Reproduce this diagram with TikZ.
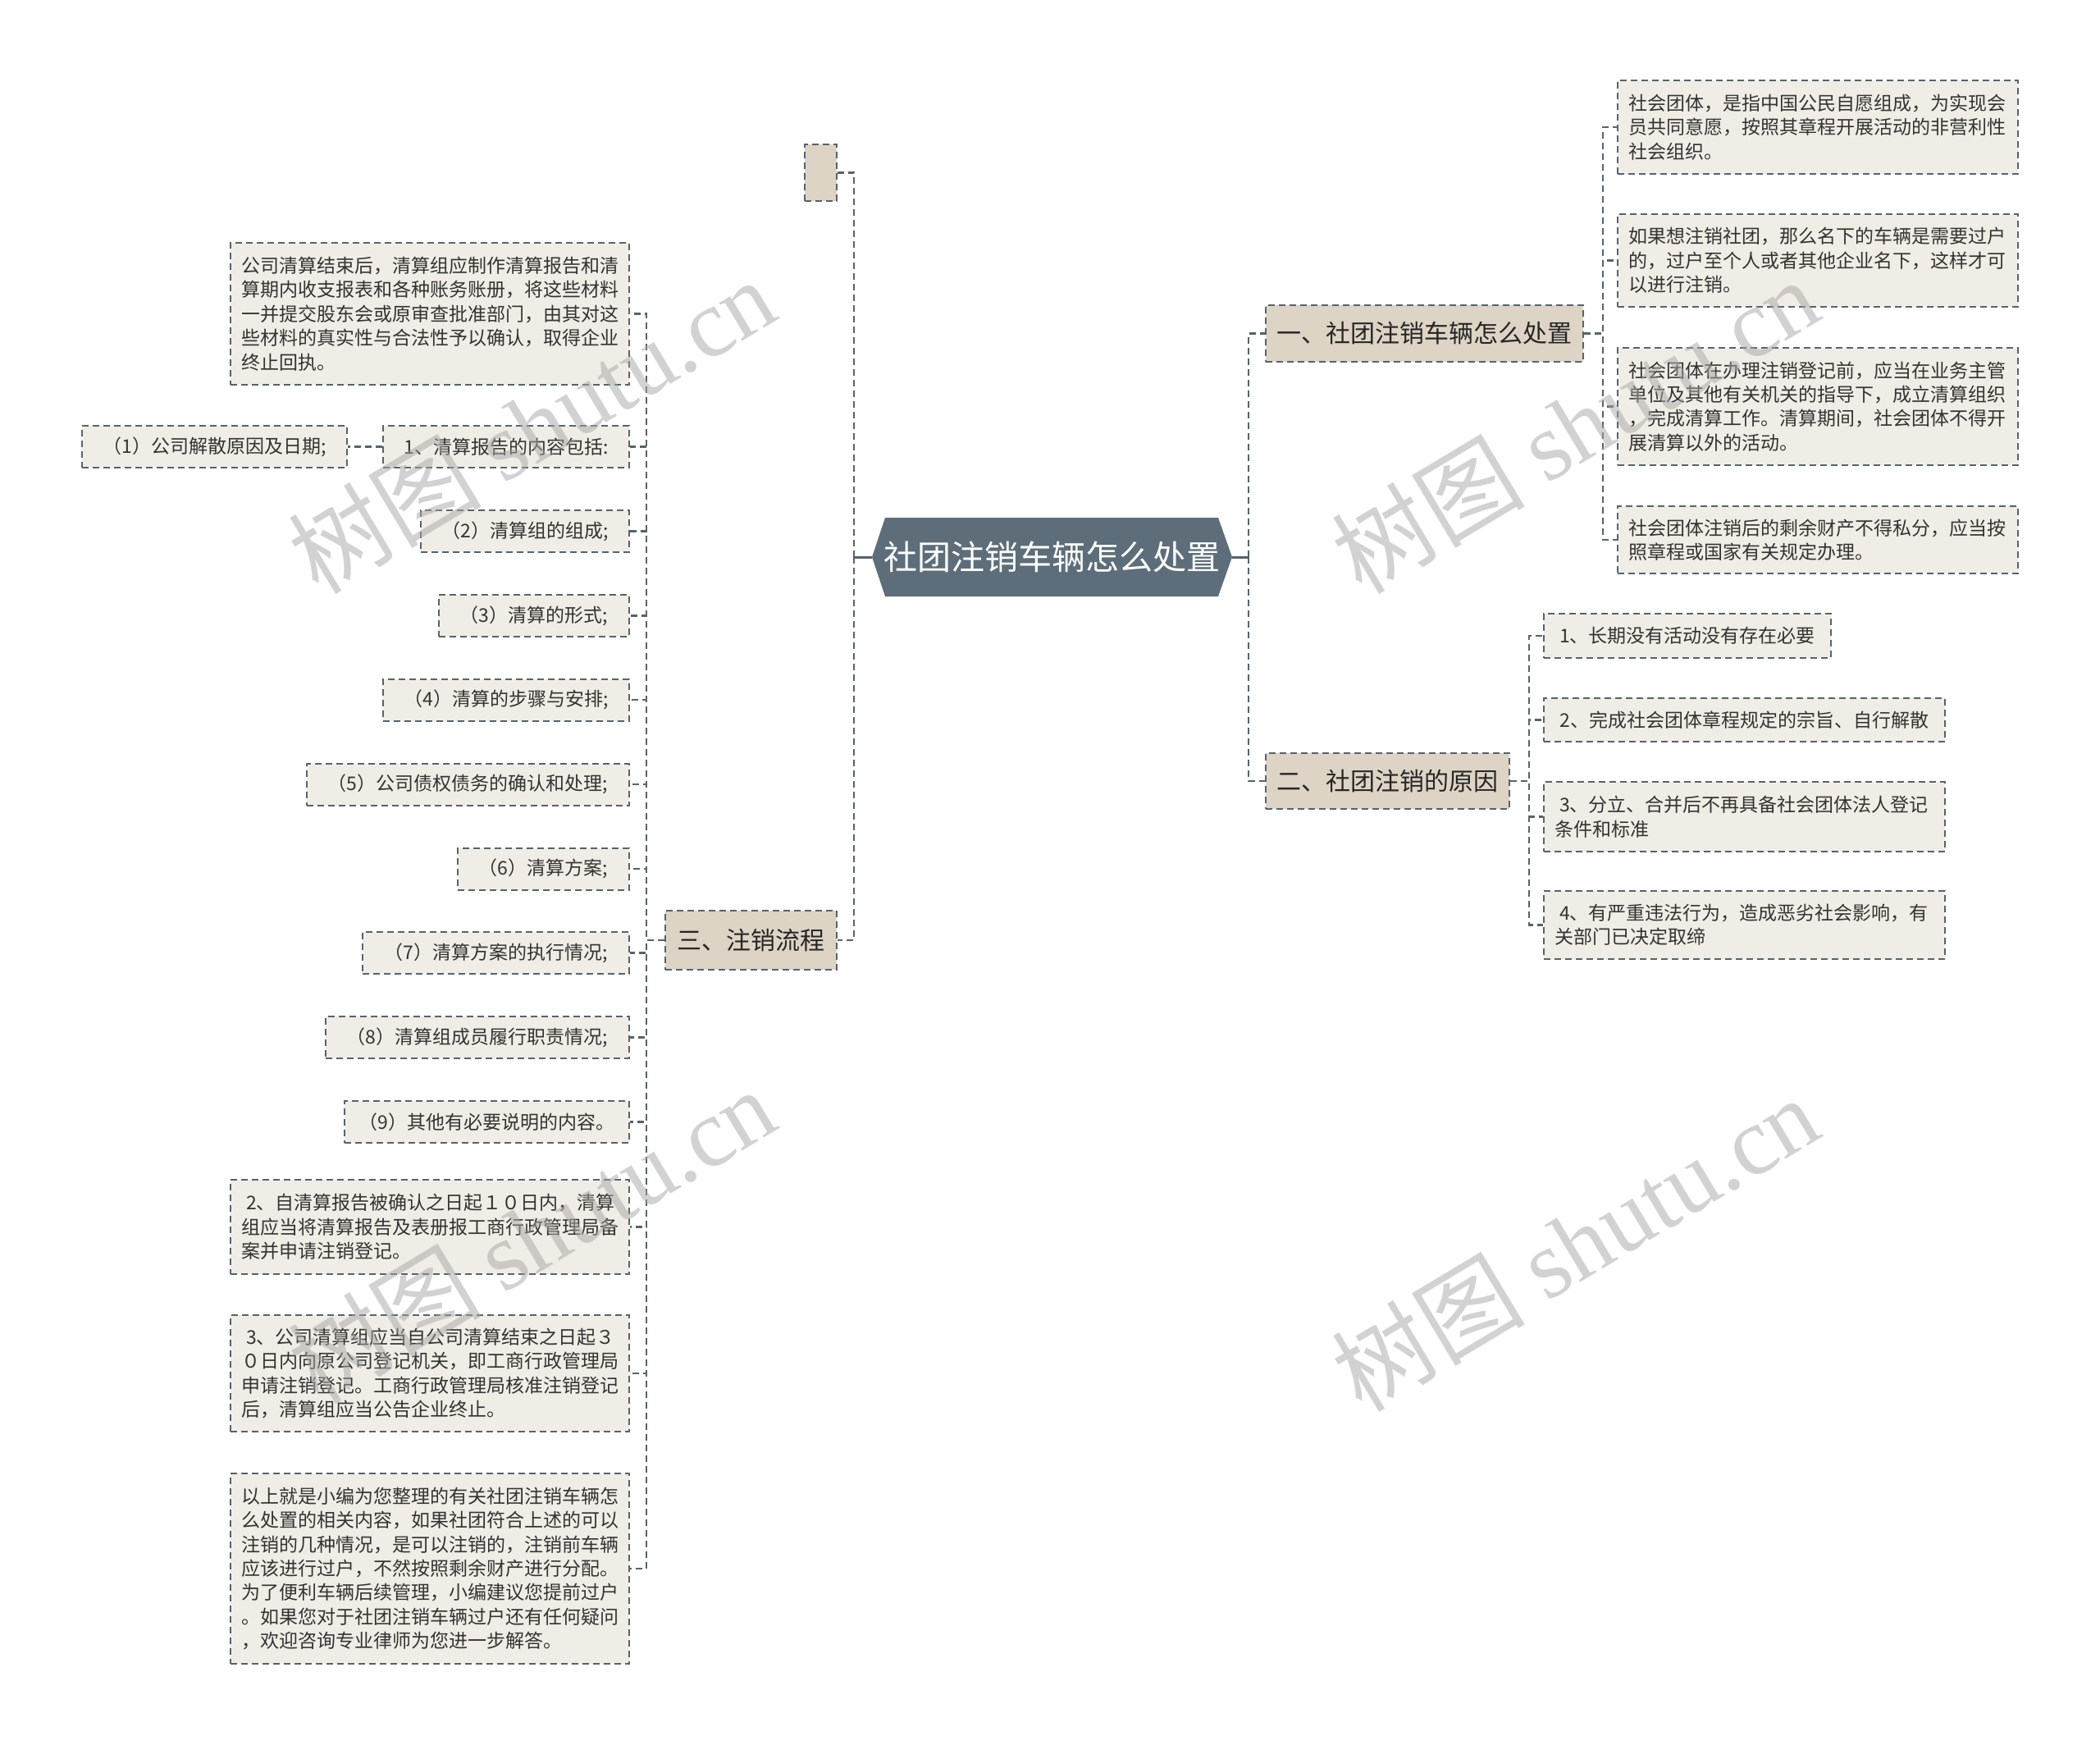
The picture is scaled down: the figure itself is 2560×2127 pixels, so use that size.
\documentclass[tikz,border=0pt]{standalone}
\usepackage{fontspec}
\setmainfont{Noto Sans CJK SC}
\newfontfamily\wmlatin{Liberation Serif}
\definecolor{lineC}{HTML}{56636C}
\definecolor{leafF}{HTML}{F0EDE6}
\definecolor{brF}{HTML}{DDD4C5}
\definecolor{cenF}{HTML}{5D6E7A}
\definecolor{txtC}{HTML}{333333}
\begin{document}
\begin{tikzpicture}[x=1pt,y=-1pt,
  conn/.style={draw=lineC, line width=2.2pt, dash pattern=on 8pt off 5pt},
  stub/.style={draw=lineC, line width=3pt},
  box/.style={draw=lineC, line width=2pt, dash pattern=on 8pt off 5pt, inner sep=0pt, text=txtC},
  leaf/.style={box, fill=leafF, font=\fontsize{23}{29.4}\selectfont, align=left, inner xsep=13pt},
  sleaf/.style={box, fill=leafF, font=\fontsize{23}{29.4}\selectfont, minimum height=51},
  branch/.style={box, fill=brF, font=\fontsize{30}{36}\selectfont, text=black!85},
  wm/.style={text=gray!70, opacity=0.5, font=\fontsize{118}{118}\selectfont, inner sep=0pt}
]
\useasboundingbox (0,0) rectangle (2560,2127);
\fill[white] (0,0) rectangle (2560,2127);

% central topic
\fill[cenF] (1063,679) -- (1079,631) -- (1485,631) -- (1502,679) -- (1485,727) -- (1079,727) -- cycle;
\node[text=white, font=\fontsize{41}{48}\selectfont, inner sep=0pt, minimum width=406, minimum height=96] (c) at (1282,679) {社团注销车辆怎么处置};
\coordinate (cL) at (1063,679);
\coordinate (cLj) at (1041,679);
\coordinate (cR) at (1502,679);
\coordinate (cRj) at (1522,679);

% main branches
\node[branch, minimum width=39, minimum height=69] (e0) at (1000.5,210.5) {};
\node[branch, minimum width=387, minimum height=69] (b1) at (1736.5,406.5) {一、社团注销车辆怎么处置};
\node[branch, minimum width=297, minimum height=68] (b2) at (1691.5,952) {二、社团注销的原因};
\node[branch, minimum width=209, minimum height=72] (b3) at (915.5,1146) {三、注销流程};

% right branch 1 leaves
\node[leaf, text width=462, minimum height=114] (r1) at (2216,155) {社会团体，是指中国公民自愿组成，为实现会\\员共同意愿，按照其章程开展活动的非营利性\\社会组织。};
\node[leaf, text width=462, minimum height=113] (r2) at (2216,317.5) {如果想注销社团，那么名下的车辆是需要过户\\的，过户至个人或者其他企业名下，这样才可\\以进行注销。};
\node[leaf, text width=462, minimum height=143] (r3) at (2216,495.5) {社会团体在办理注销登记前，应当在业务主管\\单位及其他有关机关的指导下，成立清算组织\\，完成清算工作。清算期间，社会团体不得开\\展清算以外的活动。};
\node[leaf, text width=462, minimum height=82] (r4) at (2216,658) {社会团体注销后的剩余财产不得私分，应当按\\照章程或国家有关规定办理。};

% right branch 2 leaves
\node[sleaf, minimum width=350, minimum height=54] (s1) at (2057,775) {1、长期没有活动没有存在必要};
\node[sleaf, minimum width=489, minimum height=53] (s2) at (2126.5,877.5) {2、完成社会团体章程规定的宗旨、自行解散};
\node[leaf, text width=463, minimum height=85] (s3) at (2126.5,995.5) {\hspace*{6pt}3、分立、合并后不再具备社会团体法人登记\\条件和标准};
\node[leaf, text width=463, minimum height=83] (s4) at (2126.5,1127.5) {\hspace*{6pt}4、有严重违法行为，造成恶劣社会影响，有\\关部门已决定取缔};

% left branch leaves
\node[leaf, text width=460, minimum height=173] (la) at (524,382.5) {公司清算结束后，清算组应制作清算报告和清\\算期内收支报表和各种账务账册，将这些材料\\一并提交股东会或原审查批准部门，由其对这\\些材料的真实性与合法性予以确认，取得企业\\终止回执。};
\node[sleaf, minimum width=300] (lb) at (617,544.5) {1、清算报告的内容包括:};
\node[sleaf, minimum width=323] (p1) at (261.5,544.5) {（1）公司解散原因及日期;};
\node[sleaf, minimum width=254] (lc) at (640,647.5) {（2）清算组的组成;};
\node[sleaf, minimum width=232] (ld) at (651,750.5) {（3）清算的形式;};
\node[sleaf, minimum width=300] (le) at (617,853) {（4）清算的步骤与安排;};
\node[sleaf, minimum width=393] (lf) at (570.5,956) {（5）公司债权债务的确认和处理;};
\node[sleaf, minimum width=209] (lg) at (662.5,1059) {（6）清算方案;};
\node[sleaf, minimum width=325] (lh) at (604.5,1161.5) {（7）清算方案的执行情况;};
\node[sleaf, minimum width=370] (li) at (582,1264.5) {（8）清算组成员履行职责情况;};
\node[sleaf, minimum width=347] (lj) at (593.5,1367.5) {（9）其他有必要说明的内容。};
\node[leaf, text width=460, minimum height=115] (lk) at (524,1495.5) {\hspace*{6pt}2、自清算报告被确认之日起１０日内，清算\\组应当将清算报告及表册报工商行政管理局备\\案并申请注销登记。};
\node[leaf, text width=460, minimum height=142] (ll) at (524,1674) {\hspace*{6pt}3、公司清算组应当自公司清算结束之日起３\\０日内向原公司登记机关，即工商行政管理局\\申请注销登记。工商行政管理局核准注销登记\\后，清算组应当公告企业终止。};
\node[leaf, text width=460, minimum height=232] (lm) at (524,1912) {以上就是小编为您整理的有关社团注销车辆怎\\么处置的相关内容，如果社团符合上述的可以\\注销的几种情况，是可以注销的，注销前车辆\\应该进行过户，不然按照剩余财产进行分配。\\为了便利车辆后续管理，小编建议您提前过户\\。如果您对于社团注销车辆过户还有任何疑问\\，欢迎咨询专业律师为您进一步解答。};

% connectors: central
\draw[stub] (cL) -- (cLj);
\draw[stub] (cR) -- (cRj);
\draw[conn] (cLj) |- (e0.east);
\draw[conn] (cLj) |- (b3.east);
\draw[conn] (cRj) |- (b1.west);
\draw[conn] (cRj) |- (b2.west);

% branch 1
\foreach \n in {r1,r2,r3,r4} \draw[conn] (b1.east) -- ++(23,0) |- (\n.west);
% branch 2
\foreach \n in {s1,s2,s3,s4} \draw[conn] (b2.east) -- ++(23,0) |- (\n.west);
% branch 3
\foreach \n in {la,lb,lc,ld,le,lf,lg,lh,li,lj,lk,ll,lm} \draw[conn] (b3.west) -- ++(-22,0) |- (\n.east);
\draw[conn] (lb.west) -- (p1.east);

% watermarks
\node[wm, rotate=31] (wm1) at (648,518) {树图 {\wmlatin shutu.cn}};
\node[wm, rotate=31] (wm2) at (1920,518) {树图 {\wmlatin shutu.cn}};
\node[wm, rotate=31] (wm3) at (648,1505) {树图 {\wmlatin shutu.cn}};
\node[wm, rotate=31] (wm4) at (1920,1515) {树图 {\wmlatin shutu.cn}};
\end{tikzpicture}
\end{document}
